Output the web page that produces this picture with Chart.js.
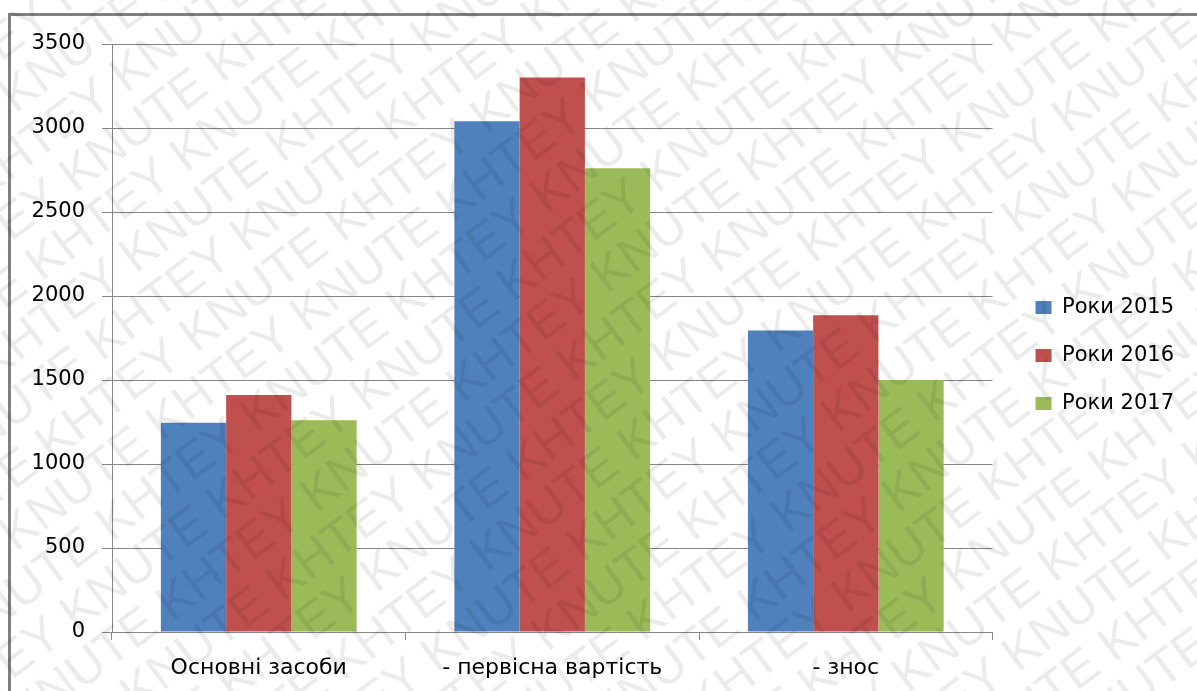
<!DOCTYPE html>
<html><head><meta charset="utf-8">
<script src="https://cdn.jsdelivr.net/npm/chart.js@4"></script>
<style>
html,body{margin:0;padding:0;background:#fff;overflow:hidden;}
#wrap{position:relative;width:1197px;height:691px;overflow:hidden;}
#frame{position:absolute;left:8px;top:13px;width:1400px;height:900px;border:3px solid #808080;box-sizing:border-box;}
canvas{position:absolute;left:0;top:0;}
</style></head><body>
<div id="wrap"><div id="frame"></div><canvas id="c" width="1197" height="691"></canvas></div>
<script>
const categories = ['Основні засоби', '- первісна вартість', '- знос'];
const seriesNames = ['Роки 2015', 'Роки 2016', 'Роки 2017'];
const values2015 = [1245, 3040, 1795];
const values2016 = [1410, 3300, 1885];
const values2017 = [1260, 2760, 1500];
const seriesColors = ['#4F81BD', '#C0504D', '#9BBB59'];
const yMin = 0, yMax = 3500, yStep = 500;
const watermarkWords = ['KHTEY', 'KNUTE'];

const FONT = '"DejaVu Sans", "Noto Sans", sans-serif';

const watermark = {
  id: 'watermark',
  afterDraw(chart) {
    const ctx = chart.ctx;
    ctx.save();
    ctx.fillStyle = 'rgba(0,0,0,0.08)';
    ctx.font = '50px "Liberation Sans", Arial, sans-serif';
    ctx.textBaseline = 'middle';
    ctx.translate(600, 345);
    ctx.rotate(-37 * Math.PI / 180);
    for (let r = -16; r <= 16; r++) {
      let line = '';
      for (let k = 0; k < 20; k++) line += watermarkWords[(k + r + 200) % 2] + ' ';
      ctx.fillText(line, -1500 + (r % 2 ? 80 : 0), r * 50);
    }
    ctx.restore();
  }
};

const datasets = [values2015, values2016, values2017].map((v, i) => ({
  label: seriesNames[i],
  data: v,
  backgroundColor: seriesColors[i],
  borderWidth: 0,
  barPercentage: 1.0,
  categoryPercentage: 0.667
}));

new Chart(document.getElementById('c'), {
  type: 'bar',
  data: { labels: categories, datasets },
  options: {
    responsive: false,
    animation: false,
    devicePixelRatio: 1,
    layout: { padding: { top: 44, bottom: 0, left: 0, right: 13 } },
    plugins: {
      tooltip: { enabled: false },
      legend: {
        position: 'right',
        align: 'start',
        title: { display: true, text: ' ', font: { size: 10 }, padding: { top: 214, bottom: 0 } },
        labels: {
          boxWidth: 16, boxHeight: 13, padding: 27,
          color: '#000',
          font: { family: FONT, size: 21 }
        }
      }
    },
    scales: {
      x: {
        grid: { display: true, drawOnChartArea: false, drawTicks: true, tickLength: 8, color: '#868686', offset: true },
        border: { display: true, color: '#868686', width: 1 },
        ticks: { color: '#000', padding: 15, font: { family: FONT, size: 22 }, maxRotation: 0 },
        afterFit(s) { s.height = 59; }
      },
      y: {
        min: yMin, max: yMax,
        grid: { color: '#868686', tickLength: 10 },
        border: { display: true, color: '#868686', width: 1 },
        ticks: {
          stepSize: yStep, color: '#000', padding: 17,
          font: { family: FONT, size: 21 },
          callback: (v) => String(v)
        },
        afterFit(s) { s.width = 112; }
      },
      y2: {
        position: 'right',
        display: true,
        grid: { display: false },
        border: { display: false },
        ticks: { display: false },
        afterFit(s) { s.width = 16; }
      }
    }
  },
  plugins: [watermark]
});
</script>
</body></html>
